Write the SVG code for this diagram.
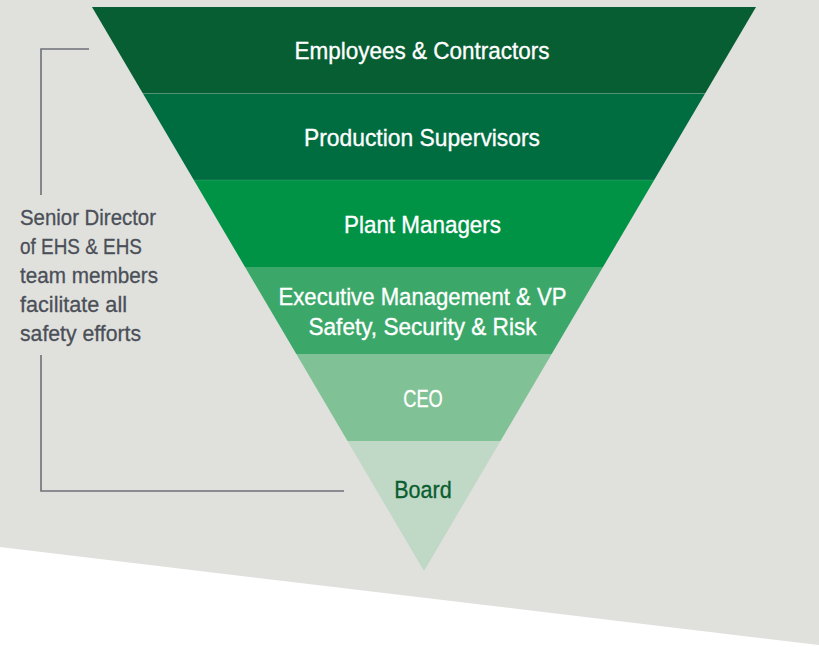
<svg xmlns="http://www.w3.org/2000/svg" width="819" height="647" viewBox="0 0 819 647">
  <style>
    .band-label { font-family: "Liberation Sans", Arial, sans-serif; font-size: 24.5px; fill: #ffffff; stroke: #ffffff; stroke-width: 0.35; text-anchor: middle; }
    .side { font-family: "Liberation Sans", Arial, sans-serif; font-size: 22px; fill: #4b4f58; stroke: #4b4f58; stroke-width: 0.3; }
    .bracket { fill: none; stroke: #6d7078; stroke-width: 1.6; }
    .sep { stroke: #ffffff; stroke-opacity: 0.12; stroke-width: 1; }
  </style>
  <rect x="0" y="0" width="819" height="647" fill="#ffffff"/>
  <polygon id="background" points="0,0 819,0 819,645 0,547" fill="#e0e1dd"/>

  <g id="band-employees">
    <polygon points="92,7 756,7 705.1,93.5 142.9,93.5" fill="#075e33"/>
    <text class="band-label" x="422" y="59" textLength="255" lengthAdjust="spacingAndGlyphs">Employees &amp; Contractors</text>
  </g>
  <g id="band-supervisors">
    <polygon points="142.9,93.5 705.1,93.5 654.2,180 193.8,180" fill="#006d41"/>
    <text class="band-label" x="422" y="146.3" textLength="236" lengthAdjust="spacingAndGlyphs">Production Supervisors</text>
  </g>
  <g id="band-plant">
    <polygon points="193.8,180 654.2,180 603,267 245,267" fill="#009245"/>
    <text class="band-label" x="422.5" y="233.3" textLength="157" lengthAdjust="spacingAndGlyphs">Plant Managers</text>
  </g>
  <g id="band-executive">
    <polygon points="245,267 603,267 551.7,354 296.3,354" fill="#3ba86a"/>
    <text class="band-label" x="422.5" y="305" textLength="288" lengthAdjust="spacingAndGlyphs">Executive Management &amp; VP</text>
    <text class="band-label" x="422.5" y="335" textLength="228" lengthAdjust="spacingAndGlyphs">Safety, Security &amp; Risk</text>
  </g>
  <g id="band-ceo">
    <polygon points="296.3,354 551.7,354 500.5,441 347.5,441" fill="#80c295"/>
    <text class="band-label" x="423" y="406.7" textLength="39.5" lengthAdjust="spacingAndGlyphs">CEO</text>
  </g>
  <g id="band-board">
    <polygon points="347.5,441 500.5,441 424,571" fill="#c0d8c6"/>
    <text class="band-label" x="423" y="498.3" textLength="57.5" lengthAdjust="spacingAndGlyphs" style="fill:#0b5e30;stroke:#0b5e30">Board</text>
  </g>

  <g id="separators">
    <line class="sep" x1="142.9" y1="93.5" x2="705.1" y2="93.5"/>
    <line class="sep" x1="193.8" y1="180" x2="654.2" y2="180"/>
  </g>

  <g id="connectors">
    <polyline class="bracket" points="89,49 41,49 41,195"/>
    <polyline class="bracket" points="41,355 41,491 344,491"/>
  </g>

  <g id="side-note">
    <text class="side" x="20" y="225" textLength="136" lengthAdjust="spacingAndGlyphs">Senior Director</text>
    <text class="side" x="20" y="254" textLength="122" lengthAdjust="spacingAndGlyphs">of EHS &amp; EHS</text>
    <text class="side" x="20" y="283" textLength="138" lengthAdjust="spacingAndGlyphs">team members</text>
    <text class="side" x="20" y="312" textLength="107" lengthAdjust="spacingAndGlyphs">facilitate all</text>
    <text class="side" x="20" y="341" textLength="121" lengthAdjust="spacingAndGlyphs">safety efforts</text>
  </g>
</svg>
